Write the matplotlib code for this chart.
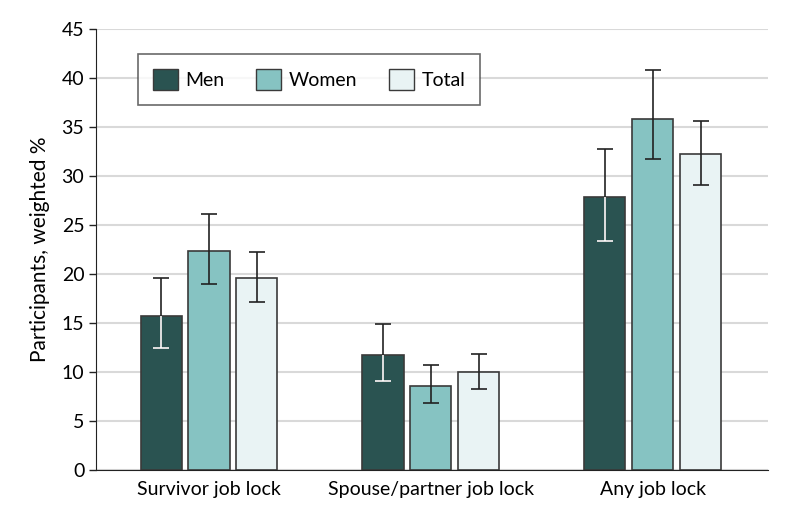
import numpy as np
import matplotlib.pyplot as plt
from matplotlib.patches import Patch

# Job lock data
categories = ['Survivor job lock', 'Spouse/partner job lock', 'Any job lock']
groups = ['Men', 'Women', 'Total']
values = {
    'Men':   [15.7, 11.7, 27.9],
    'Women': [22.4, 8.6, 35.8],
    'Total': [19.6, 10.0, 32.3],
}
ci_low = {
    'Men':   [12.5, 9.1, 23.4],
    'Women': [19.0, 6.8, 31.7],
    'Total': [17.1, 8.3, 29.1],
}
ci_high = {
    'Men':   [19.6, 14.9, 32.8],
    'Women': [26.1, 10.7, 40.8],
    'Total': [22.3, 11.8, 35.6],
}

colors = {'Men': '#2a5351', 'Women': '#86c3c2', 'Total': '#e9f3f4'}
edge = '#3a3a3a'

plt.rcParams['font.family'] = ['Lato', 'DejaVu Sans']

fig = plt.figure(figsize=(7.94, 5.21), dpi=100)
ax = fig.add_axes([0.121, 0.098, 0.846, 0.846])

x = np.arange(len(categories))
width = 0.185
step = 0.216
cap = 6

for i, g in enumerate(groups):
    pos = x + (i - 1) * step
    vals = np.array(values[g])
    lo = np.array(ci_low[g])
    hi = np.array(ci_high[g])
    ax.bar(pos, vals, width, color=colors[g], edgecolor=edge, linewidth=1.2,
           label=g, zorder=2)
    ax.errorbar(pos, vals, yerr=[vals - lo, hi - vals], fmt='none',
                ecolor='#222222', elinewidth=1.2, capsize=cap, capthick=1.2,
                zorder=3)
    if g == 'Men':
        # part of the whisker inside the dark bar is drawn in white
        ax.vlines(pos, lo, vals, color='white', linewidth=1.2, zorder=4)
        ax.plot(pos, lo, linestyle='none', marker='_', markersize=2 * cap,
                markeredgewidth=1.2, color='white', zorder=4)

ax.set_xlim(-0.509, 2.518)
ax.set_ylim(0, 45)
ax.set_yticks(np.arange(0, 46, 5))
ax.set_xticks(x)
ax.set_xticklabels(categories)
ax.tick_params(axis='x', length=0, pad=8, labelsize=14)
ax.tick_params(axis='y', length=5, width=1, labelsize=14, color='#222222')
ax.yaxis.grid(True, color='#d9d9d9', linewidth=1.5, zorder=0)
ax.set_axisbelow(True)
for s in ['top', 'right']:
    ax.spines[s].set_visible(False)
ax.spines['left'].set_color('#222222')
ax.spines['bottom'].set_color('#222222')
ax.set_ylabel('Participants, weighted %', fontsize=15, labelpad=8)

handles = [Patch(facecolor=colors[g], edgecolor=edge, linewidth=1) for g in groups]
leg = ax.legend(handles, groups, loc='upper left', bbox_to_anchor=(0.048, 0.965),
                ncol=3, frameon=True, fancybox=False, fontsize=14,
                handlelength=1.3, handleheight=1.3, columnspacing=1.6,
                handletextpad=0.4, borderpad=0.75)
leg.get_frame().set_edgecolor('#444444')
leg.get_frame().set_linewidth(1.2)

plt.savefig('out.png', dpi=100)
plt.close()
